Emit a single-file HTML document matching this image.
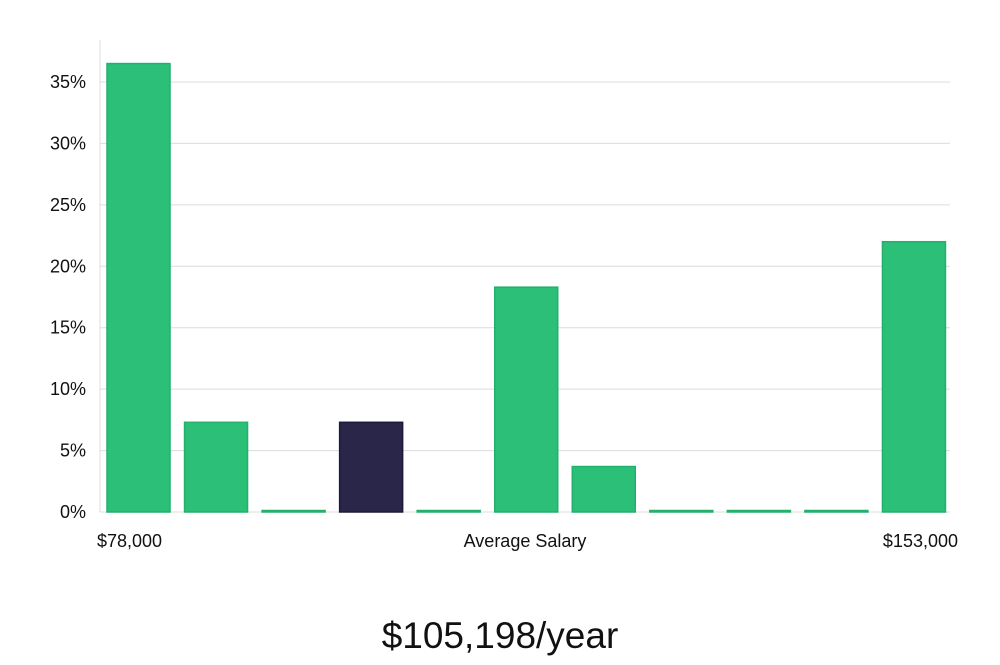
<!DOCTYPE html>
<html><head><meta charset="utf-8"><style>
body{margin:0;background:#fff;width:1000px;height:660px;overflow:hidden;font-family:"Liberation Sans",sans-serif}
</style></head><body>
<svg id="chart" width="1000" height="660" xmlns="http://www.w3.org/2000/svg"></svg>
<script>
const categories=["b1","b2","b3","b4","b5","b6","b7","b8","b9","b10","b11"];
const values=[36.5,7.3,0,7.3,0,18.3,3.7,0,0,0,22.0];
const highlight=[false,false,false,true,false,false,false,false,false,false,false];
const yTicks=[0,5,10,15,20,25,30,35];
const yTickLabels=["0%","5%","10%","15%","20%","25%","30%","35%"];
const xLabels=["$78,000","Average Salary","$153,000"];
const title="$105,198/year";

const NS="http://www.w3.org/2000/svg";
const svg=document.getElementById('chart');
const x0=100,x1=950,yBase=512,pxPer=12.286;
function y(v){return yBase-v*pxPer;}
const pitch=(x1-x0+3)/categories.length;
function bx(i){return x0+7+i*pitch;}
const bw=63;
function mk(t,a){const e=document.createElementNS(NS,t);for(const k in a)e.setAttribute(k,a[k]);svg.appendChild(e);return e;}

let ax=mk('line',{x1:x0,y1:40,x2:x0,y2:yBase,stroke:'#ddd','stroke-width':1});


yTicks.forEach((t,i)=>{
  if(t>0){const g=mk('line',{x1:x0,y1:y(t),x2:x1,y2:y(t),stroke:'#dcdcdc','stroke-width':1});
  
  }
  const tx=mk('text',{x:86,y:y(t)+6,'text-anchor':'end','font-size':18,fill:'#111'});
  tx.textContent=yTickLabels[i];
  
  
});
let base=mk('line',{x1:x0,y1:yBase,x2:x1,y2:yBase,stroke:'#ddd','stroke-width':1});


values.forEach((v,i)=>{
  const h=Math.max(v*pxPer,1.5);
  const fill=highlight[i]?'#29264a':'#2bbf77';
  const st=highlight[i]?'#1c1a38':'#22b06c';
  const r=mk('rect',{x:bx(i),y:yBase-h,width:bw,height:h,fill:fill,stroke:st,'stroke-width':1.5});
  
  
});
const xl=[[97,'start'],[525,'middle'],[958,'end']];
xLabels.forEach((l,i)=>{
  const t=mk('text',{x:xl[i][0],y:547,'text-anchor':xl[i][1],'font-size':18,fill:'#111'});
  t.textContent=l;
  
  
});
const tt=mk('text',{x:500,y:648,'text-anchor':'middle','font-size':37,fill:'#111','font-weight':300});
tt.textContent=title;


</script>
</body></html>
